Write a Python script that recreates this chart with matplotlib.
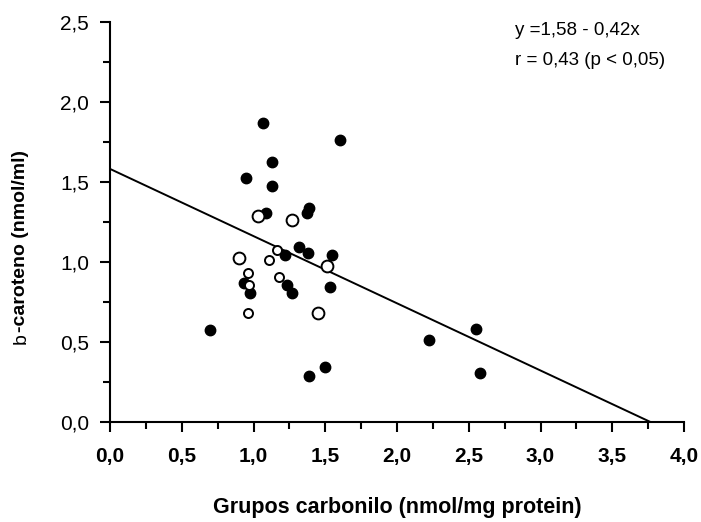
import numpy as np
import matplotlib.pyplot as plt
from matplotlib.ticker import MultipleLocator, FuncFormatter

plt.rcParams['font.family'] = ['Liberation Sans', 'DejaVu Sans']

# carbonyl groups (x) vs b-carotene (y)
filled_x = [1.065, 1.601, 1.126, 0.951, 1.126, 1.086, 1.387, 1.375, 1.315, 1.378, 1.545, 1.219,
            0.937, 0.979, 1.235, 1.270, 1.534, 0.699, 1.497, 1.385, 2.552, 2.226, 2.576]
filled_y = [1.865, 1.761, 1.623, 1.521, 1.471, 1.302, 1.334, 1.302, 1.092, 1.052, 1.042, 1.042,
            0.869, 0.806, 0.854, 0.806, 0.840, 0.573, 0.340, 0.288, 0.577, 0.511, 0.302]

open_big_x = [1.028, 1.266, 0.902, 1.515, 1.450]
open_big_y = [1.286, 1.261, 1.021, 0.973, 0.677]
open_small_x = [1.161, 1.105, 0.965, 1.175, 0.967, 0.965]
open_small_y = [1.075, 1.013, 0.929, 0.906, 0.854, 0.677]

intercept = 1.58
slope = -0.42

fig = plt.figure(figsize=(7.01, 5.22), dpi=100)
ax = fig.add_axes([110/701, 1-421.7/522, 574/701, 400/522])

xl = np.array([0, -intercept/slope])
ax.plot(xl, intercept + slope*xl, color='black', lw=1.4, zorder=2)

ax.plot(filled_x, filled_y, 'o', color='black', ms=7.5, zorder=3)
ax.plot(open_big_x, open_big_y, 'o', mfc='white', mec='black', mew=1.4, ms=8.5, zorder=4)
ax.plot(open_small_x, open_small_y, 'o', mfc='white', mec='black', mew=1.4, ms=6.5, zorder=4)

ax.set_xlim(0, 4.0)
ax.set_ylim(0, 2.5)
ax.spines['top'].set_visible(False)
ax.spines['right'].set_visible(False)
for s in ['left', 'bottom']:
    ax.spines[s].set_linewidth(1.5)

comma = FuncFormatter(lambda v, p: f"{v:.1f}".replace('.', ','))
ax.xaxis.set_major_locator(MultipleLocator(0.5))
ax.xaxis.set_minor_locator(MultipleLocator(0.25))
ax.yaxis.set_major_locator(MultipleLocator(0.5))
ax.yaxis.set_minor_locator(MultipleLocator(0.25))
ax.xaxis.set_major_formatter(comma)
ax.yaxis.set_major_formatter(comma)
ax.tick_params(which='major', direction='out', length=7, width=1.5)
ax.tick_params(which='minor', direction='out', length=5, width=1.5)
ax.tick_params(axis='y', labelsize=15, pad=8)
ax.tick_params(axis='x', labelsize=15, pad=11)
for t in ax.get_xticklabels():
    t.set_fontweight('bold')

fig.text(397/701, 1-508/522, 'Grupos carbonilo (nmol/mg protein)', ha='center', va='center',
         fontsize=15.5, fontweight='bold')

# y label: plain "b" followed by bold text
fig.text(21/701, 1-344/522, 'b', rotation=90, ha='center', va='bottom', fontsize=14)
fig.text(21/701, 1-332/522, '-caroteno (nmol/ml)', rotation=90, ha='center', va='bottom',
         fontsize=14, fontweight='bold')

ax.text(2.82, 2.445, 'y =1,58 - 0,42x', fontsize=13.5, va='center', ha='left')
ax.text(2.82, 2.255, 'r = 0,43 (p < 0,05)', fontsize=13.5, va='center', ha='left')

fig.savefig('out.png', dpi=100)
